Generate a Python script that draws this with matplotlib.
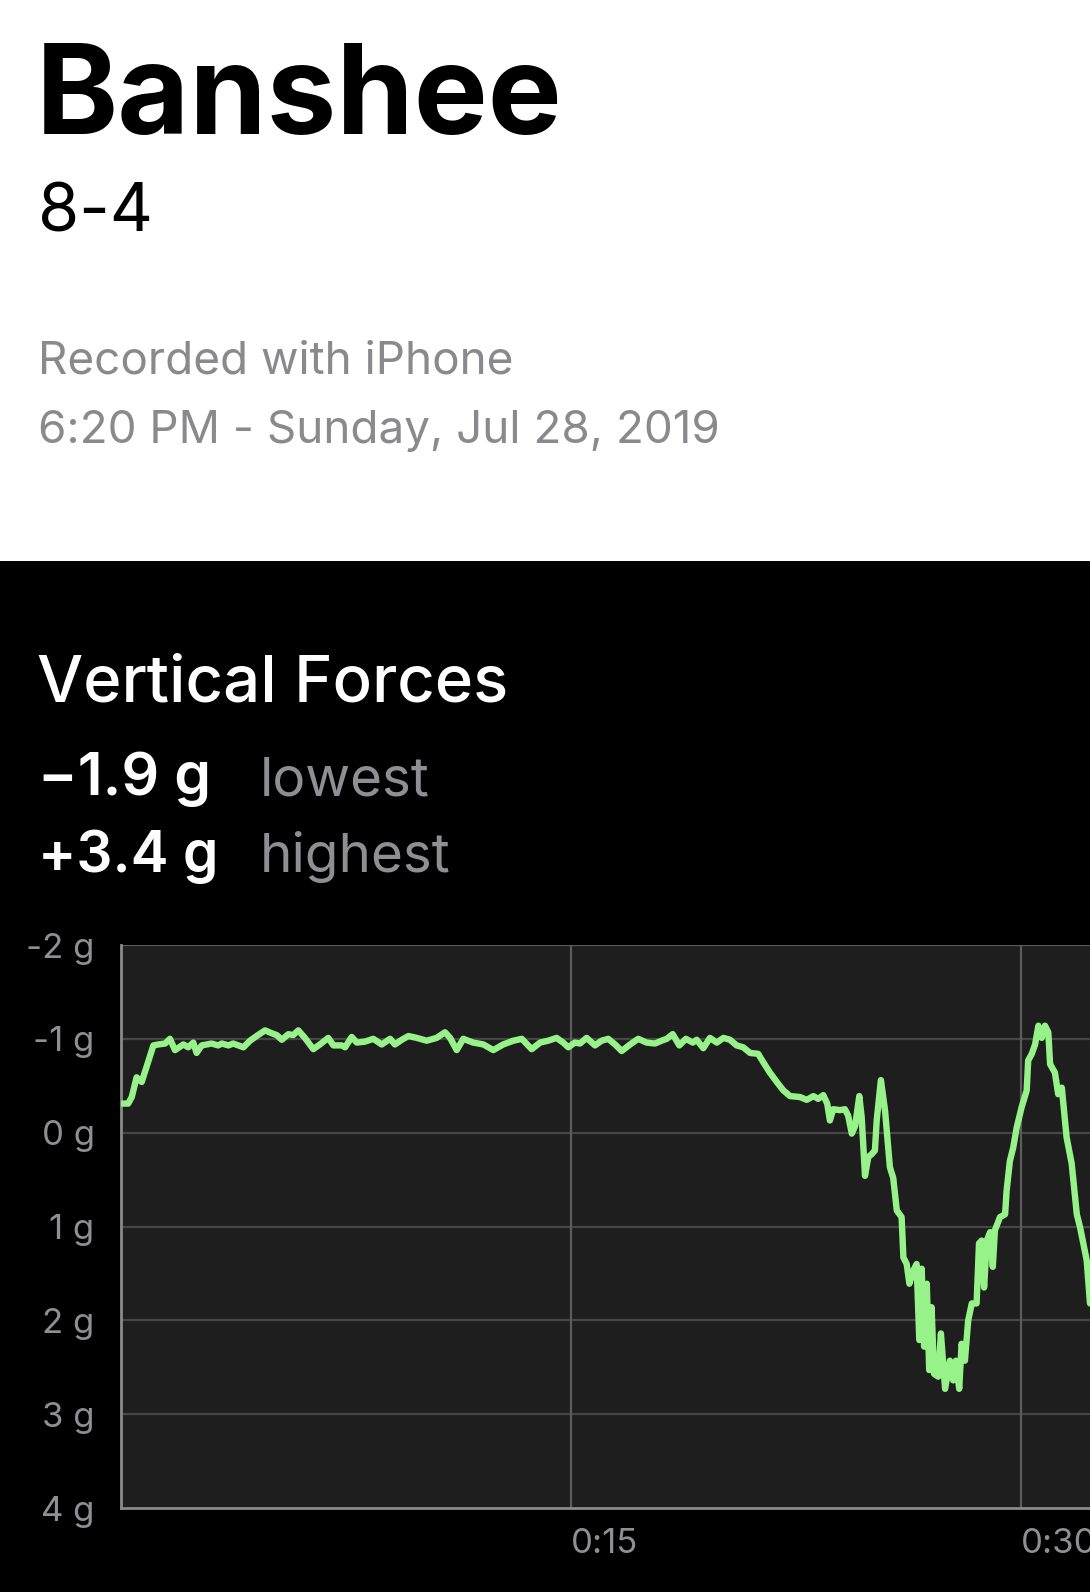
import matplotlib
matplotlib.use("Agg")
import matplotlib.pyplot as plt
from matplotlib.patches import Rectangle

# ---------------- data ----------------
title = "Banshee"
subtitle = "8-4"
recorded = "Recorded with iPhone"
timestamp = "6:20 PM - Sunday, Jul 28, 2019"
section = "Vertical Forces"
lowest_label = ("\u22121.9 g", "lowest")
highest_label = ("+3.4 g", "highest")

y_ticks = [-2, -1, 0, 1, 2, 3, 4]
y_tick_labels = ["-2 g", "-1 g", "0 g", "1 g", "2 g", "3 g", "4 g"]
x_ticks = [15, 30]
x_tick_labels = ["0:15", "0:30"]

time_s = [0.00, 0.24, 0.36, 0.52, 0.69, 0.86, 1.08, 1.24, 1.47, 1.63, 1.80, 2.08, 2.24, 2.41, 2.52,
          2.69, 3.02, 3.24, 3.36, 3.58, 3.74, 4.08, 4.30, 4.52, 4.80, 5.02, 5.19, 5.36, 5.58, 5.74,
          5.91, 6.13, 6.41, 6.63, 6.91, 7.08, 7.36, 7.47, 7.69, 7.86, 8.13, 8.41, 8.69, 8.97, 9.13,
          9.36, 9.58, 9.86, 10.19, 10.52, 10.80, 10.97, 11.19, 11.41, 11.74, 12.08, 12.41, 12.74,
          13.08, 13.36, 13.69, 13.97, 14.24, 14.52, 14.74, 14.91, 15.13, 15.30, 15.52, 15.80, 16.02,
          16.24, 16.47, 16.69, 16.97, 17.24, 17.52, 17.80, 18.02, 18.19, 18.39, 18.61, 18.83, 19.06,
          19.19, 19.41, 19.63, 19.86, 20.08, 20.30, 20.52, 20.74, 20.97, 21.24, 21.41, 21.63, 21.86,
          22.08, 22.30, 22.63, 22.86, 23.08, 23.24, 23.41, 23.54, 23.63, 23.74, 23.97, 24.13, 24.24,
          24.36, 24.47, 24.61, 24.69, 24.80, 24.91, 25.02, 25.13, 25.19, 25.33, 25.47, 25.63, 25.74,
          25.86, 25.95, 26.02, 26.08, 26.19, 26.28, 26.41, 26.52, 26.61, 26.69, 26.77, 26.86, 26.94,
          27.02, 27.10, 27.24, 27.33, 27.47, 27.63, 27.74, 27.83, 27.94, 28.02, 28.13, 28.24, 28.36,
          28.52, 28.60, 28.69, 28.77, 28.86, 28.97, 29.06, 29.13, 29.30, 29.47, 29.52, 29.63, 29.74,
          29.86, 30.02, 30.19, 30.24, 30.36, 30.47, 30.58, 30.69, 30.80, 30.91, 30.97, 31.13, 31.24,
          31.36, 31.52, 31.69, 31.86, 31.97, 32.19, 32.30]
force_g = [-0.31, -0.31, -0.38, -0.59, -0.54, -0.71, -0.93, -0.94, -0.95, -1.00, -0.88, -0.94, -0.91,
           -0.96, -0.85, -0.93, -0.95, -0.93, -0.95, -0.93, -0.95, -0.91, -0.98, -1.03, -1.09, -1.06,
           -1.04, -0.99, -1.05, -1.04, -1.09, -1.01, -0.89, -0.94, -1.01, -0.93, -0.93, -0.91, -1.02,
           -0.96, -0.97, -1.00, -0.94, -1.00, -0.94, -0.99, -1.03, -1.01, -0.98, -1.01, -1.07, -1.01,
           -0.88, -1.00, -0.96, -0.94, -0.88, -0.94, -0.98, -1.00, -0.89, -0.96, -0.98, -1.01, -0.96,
           -0.91, -0.96, -0.95, -1.01, -0.93, -0.98, -1.00, -0.94, -0.87, -0.94, -1.00, -0.96, -0.95,
           -0.98, -1.00, -1.05, -0.93, -1.00, -0.96, -0.99, -0.90, -1.01, -0.96, -1.01, -0.99, -0.93,
           -0.91, -0.85, -0.84, -0.75, -0.64, -0.54, -0.45, -0.39, -0.38, -0.35, -0.39, -0.36, -0.40,
           -0.31, -0.13, -0.25, -0.24, -0.25, -0.18, 0.01, -0.07, -0.39, -0.16, 0.46, 0.26, 0.23,
           0.19, -0.13, -0.56, -0.23, 0.37, 0.48, 0.83, 0.87, 0.90, 1.33, 1.40, 1.61, 1.47, 1.40,
           2.21, 1.45, 2.28, 1.61, 2.53, 1.86, 2.57, 2.60, 2.14, 2.73, 2.43, 2.64, 2.43, 2.73, 2.25,
           2.43, 2.00, 1.82, 1.82, 1.18, 1.15, 1.65, 1.15, 1.06, 1.43, 1.04, 0.90, 0.87, 0.62, 0.30,
           0.16, -0.06, -0.27, -0.45, -0.77, -0.84, -0.94, -1.14, -1.01, -1.14, -1.07, -0.73, -0.64,
           -0.41, -0.48, 0.05, 0.33, 0.87, 1.01, 1.36, 1.82]

# ---------------- styling ----------------
W, H = 1090, 1592
plt.rcParams['font.family'] = ['Inter', 'DejaVu Sans']
GRAY = "#8e8e93"
LINE = "#98f28a"

fig = plt.figure(figsize=(W / 100, H / 100), dpi=100)
fig.patch.set_facecolor("white")
bg = Rectangle((0, 0), 1, 1 - 561 / H, transform=fig.transFigure,
               facecolor="black", edgecolor="none", zorder=-10)
fig.patches.append(bg)


def ftext(x, y, s, **kw):
    fig.text(x / W, 1 - y / H, s, va="baseline", ha="left", **kw)


ftext(36, 134, title, fontsize=89.5, fontweight="bold", color="black")
ftext(38, 231, subtitle, fontsize=48, color="black")
ftext(38, 374, recorded, fontsize=33, color="#8a8a8e")
ftext(38, 443, timestamp, fontsize=33, color="#8a8a8e")
ftext(37, 702, section, fontsize=47, fontweight="medium", color="white")
ftext(38, 795, lowest_label[0], fontsize=42.5, fontweight="semibold", color="white")
ftext(260, 795, lowest_label[1], fontsize=39.5, color=GRAY)
ftext(38, 872, highest_label[0], fontsize=41, fontweight="semibold", color="white")
ftext(260, 872, highest_label[1], fontsize=39.5, color=GRAY)

# axes
left, right, top, bottom = 121, 1090, 945, 1508
ax = fig.add_axes([left / W, 1 - bottom / H, (right - left) / W, (bottom - top) / H])
ax.set_zorder(5)
ax.set_facecolor("#1e1e1e")
ax.set_xlim(0, (right - left) / 30.0)
ax.set_ylim(4, -2)

ax.plot(time_s, force_g, color=LINE, lw=4.6, solid_joinstyle="round", solid_capstyle="round",
        zorder=3, clip_on=True)

ax.set_yticks(y_ticks)
ax.set_yticklabels(y_tick_labels)
ax.set_xticks(x_ticks)
ax.set_xticklabels(x_tick_labels, ha="left")
ax.tick_params(axis="both", length=0, labelsize=25, labelcolor=GRAY)
ax.tick_params(axis="y", pad=19)
ax.tick_params(axis="x", pad=14.5)

for yv in y_ticks[:-1]:
    ax.axhline(yv, color="#464646" if yv != -2 else "#5a5a5a", lw=1.6, zorder=1)
for xv in x_ticks:
    ax.axvline(xv, color="#5c5c5c", lw=1.6, zorder=1)

for s in ["top", "right"]:
    ax.spines[s].set_visible(False)
for s in ["left", "bottom"]:
    ax.spines[s].set_color("#8a8a8a")
    ax.spines[s].set_linewidth(2)

fig.savefig("out.png", dpi=100, facecolor=fig.get_facecolor())
